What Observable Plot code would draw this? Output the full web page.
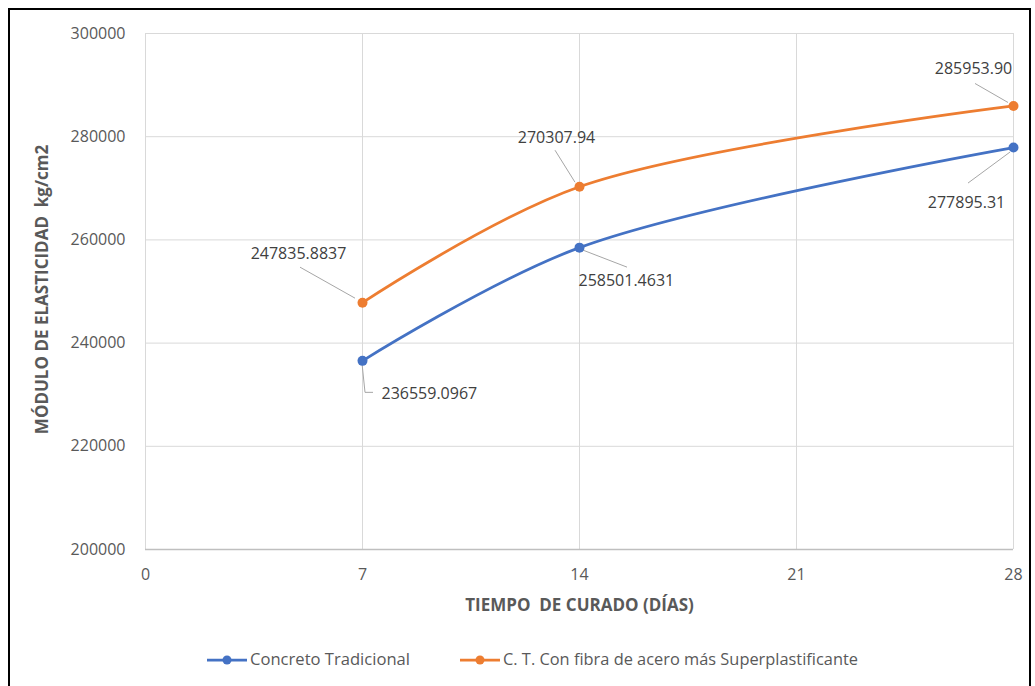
<!DOCTYPE html>
<html>
<head>
<meta charset="utf-8">
<script src="https://cdn.jsdelivr.net/npm/d3@7"></script>
<script src="https://cdn.jsdelivr.net/npm/@observablehq/plot@0.6"></script>
<style>
  html, body { margin: 0; padding: 0; background: #fff; }
  #wrap { position: relative; width: 1035px; height: 686px; overflow: hidden; background: #fff; }
  #frame { position: absolute; left: 8px; top: 8px; width: 1023px; height: 700px; border: 2px solid #000; box-sizing: border-box; }
  #chart { position: absolute; left: 0; top: 0; }
  #legend { position: absolute; left: 0; top: 640px; }
</style>
</head>
<body>
<div id="wrap">
  <div id="frame"></div>
  <div id="chart"></div>
  <div id="legend"></div>
</div>
<script>
// ---- data ----
const dias = [7, 14, 28];
const concreto = [236559.0967, 258501.4631, 277895.31];
const fibra = [247835.8837, 270307.94, 285953.90];
const etiquetasConcreto = ["236559.0967", "258501.4631", "277895.31"];
const etiquetasFibra = ["247835.8837", "270307.94", "285953.90"];
const series = ["Concreto Tradicional", "C. T. Con fibra de acero más Superplastificante"];
const xTicks = [0, 7, 14, 21, 28];
const yTicks = [200000, 220000, 240000, 260000, 280000, 300000];
const xTitle = "TIEMPO\u00a0 DE CURADO (DÍAS)";
const yTitle = "MÓDULO DE ELASTICIDAD\u00a0\u00a0kg/cm2";

// ---- styles ----
const colors = ["#4472C4", "#ED7D31"];
const font = "'Open Sans', 'DejaVu Sans', sans-serif";
// label placement (pixel offsets from the point) and leader path
const layoutConcreto = [
  {dx: 19, dy: 33, anchor: "start", leader: [[0, 3], [3, 32], [11, 32]]},
  {dx: -1, dy: 33, anchor: "start", leader: [[4, 3], [48, 20]]},
  {dx: -47, dy: 55, anchor: "middle", leader: [[-3, 5], [-45, 36]]}
];
const layoutFibra = [
  {dx: -64, dy: -49, anchor: "middle", leader: [[-7, -4], [-62, -35]]},
  {dx: -23, dy: -49, anchor: "middle", leader: [[-4, -4], [-24, -36]]},
  {dx: -40, dy: -37, anchor: "middle", leader: [[-5, -3], [-38, -22]]}
];

const rows = [];
dias.forEach((d, i) => {
  rows.push({dia: d, valor: concreto[i], serie: series[0], etiqueta: etiquetasConcreto[i], lay: layoutConcreto[i]});
});
dias.forEach((d, i) => {
  rows.push({dia: d, valor: fibra[i], serie: series[1], etiqueta: etiquetasFibra[i], lay: layoutFibra[i]});
});

const labelMarks = rows.map(r => Plot.text([r], {
  x: "dia", y: "valor", text: "etiqueta",
  dx: r.lay.dx, dy: r.lay.dy, textAnchor: r.lay.anchor,
  fill: "#404040", fontSize: 16, fontFamily: font
}));

// leader lines drawn through the chart's scales
function leaders(index, scales) {
  const g = d3.create("svg:g").attr("fill", "none").attr("stroke", "#a6a6a6").attr("stroke-width", 1);
  for (const r of rows) {
    const px = scales.x(r.dia), py = scales.y(r.valor);
    const pts = r.lay.leader.map(([a, b]) => [px + a, py + b]);
    g.append("path").attr("d", d3.line()(pts));
  }
  return g.node();
}

const chart = Plot.plot({
  width: 1035,
  height: 640,
  marginLeft: 145,
  marginRight: 22,
  marginTop: 33,
  marginBottom: 91,
  style: {fontFamily: font, background: "transparent"},
  x: {domain: [0, 28]},
  y: {domain: [200000, 300000]},
  color: {domain: series, range: colors},
  marks: [
    Plot.gridY(yTicks, {stroke: "#d9d9d9", strokeOpacity: 1}),
    Plot.gridX(xTicks, {stroke: "#d9d9d9", strokeOpacity: 1}),
    Plot.ruleY([200000], {stroke: "#bfbfbf", strokeWidth: 1.5}),
    Plot.axisY(yTicks, {tickSize: 0, tickPadding: 20, label: null, tickFormat: d => String(d), fontSize: 16, fill: "#595959"}),
    Plot.axisX(xTicks, {tickSize: 0, tickPadding: 19, label: null, tickFormat: d => String(d), fontSize: 16, fill: "#595959"}),
    Plot.text([xTitle], {frameAnchor: "bottom", dy: 61, textAnchor: "middle", fontSize: 17, fontWeight: "bold", fill: "#595959", fontFamily: font}),
    Plot.text([yTitle], {frameAnchor: "left", dx: -103, dy: -2, rotate: -90, textAnchor: "middle", fontSize: 17, fontWeight: "bold", fill: "#595959", fontFamily: font}),
    leaders,
    Plot.line(rows, {x: "dia", y: "valor", stroke: "serie", z: "serie", strokeWidth: 2.75, curve: "catmull-rom"}),
    Plot.dot(rows, {x: "dia", y: "valor", fill: "serie", r: 5}),
    ...labelMarks
  ]
});
document.getElementById("chart").appendChild(chart);

// ---- legend ----
const leg = d3.create("svg").attr("width", 1035).attr("height", 46);
const items = [
  {x0: 207, x1: 247, tx: 250, tw: 160},
  {x0: 460, x1: 500, tx: 503, tw: 355}
];
series.forEach((s, i) => {
  const it = items[i];
  const cy = 20;
  leg.append("line").attr("x1", it.x0).attr("x2", it.x1).attr("y1", cy).attr("y2", cy)
    .attr("stroke", colors[i]).attr("stroke-width", 2.75);
  leg.append("circle").attr("cx", (it.x0 + it.x1) / 2).attr("cy", cy).attr("r", 4.5).attr("fill", colors[i]);
  leg.append("text").attr("x", it.tx).attr("y", cy).attr("dy", "0.35em")
    .attr("font-family", "'Liberation Sans Narrow', 'Arial Narrow', " + font)
    .attr("font-size", 15.5).attr("fill", "#595959")
    .attr("textLength", it.tw).attr("lengthAdjust", "spacingAndGlyphs")
    .text(s);
});
document.getElementById("legend").appendChild(leg.node());
</script>
</body>
</html>
